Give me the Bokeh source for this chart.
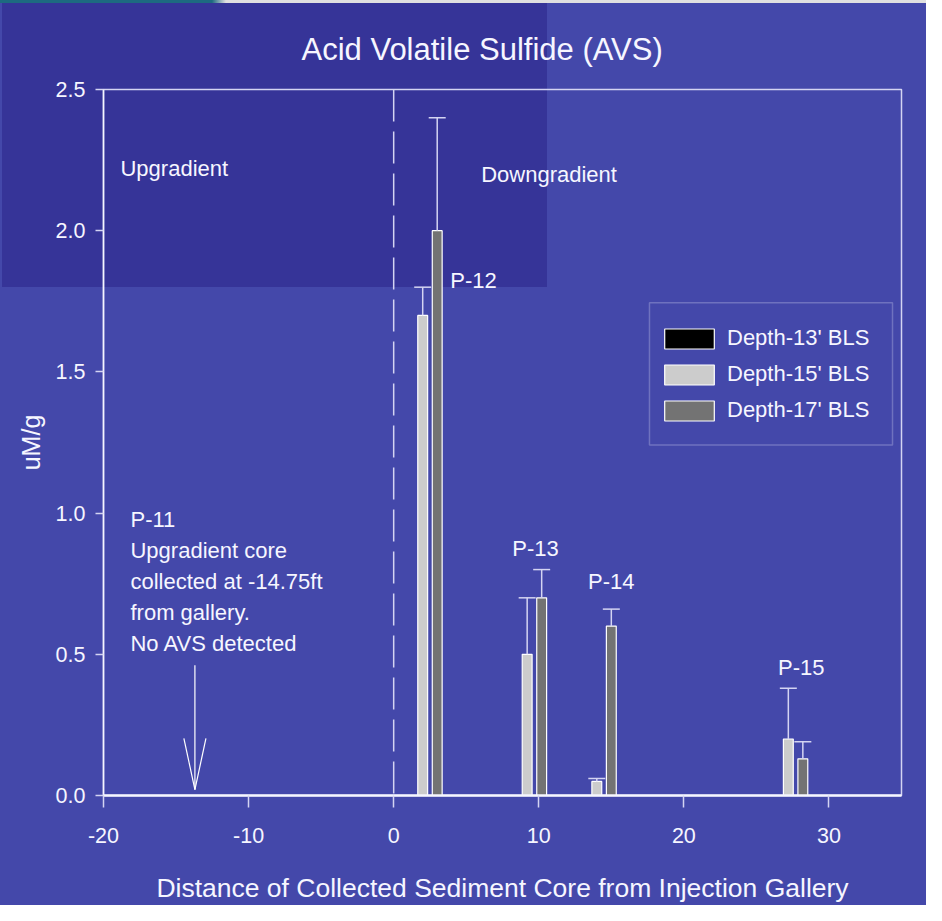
from bokeh.plotting import figure
from bokeh.models import (ColumnDataSource, Whisker, TeeHead, Span, Label, BoxAnnotation,
                          Legend, LegendItem, Range1d, FixedTicker, NumeralTickFormatter)
from bokeh.embed import file_html
from bokeh.resources import INLINE

# ---------------- data ----------------
cores = ["P-12", "P-13", "P-14", "P-15"]
core_distance = [2.5, 9.7, 14.5, 27.7]          # ft from injection gallery
depth13_avs = [None, None, None, None]          # not shown in chart
depth15_avs = [1.70, 0.50, 0.05, 0.20]          # uM/g
depth15_upper = [1.80, 0.70, 0.06, 0.38]
depth17_avs = [2.00, 0.70, 0.60, 0.13]
depth17_upper = [2.40, 0.80, 0.66, 0.19]
series_offset = [-1.5, -0.5, 0.5]               # 13', 15', 17' dodge
x_ticks = [-20, -10, 0, 10, 20, 30]
y_ticks = [0.0, 0.5, 1.0, 1.5, 2.0, 2.5]
p11_note = ["P-11", "Upgradient core", "collected at -14.75ft", "from gallery.", "No AVS detected"]

# ---------------- styles ----------------
BLUE = "#4448aa"
DARK = "#363498"
TXT = "#f6f6ff"
LINE = "#d4d4f2"
FONT = "Liberation Sans"
BAR_W = 0.68

src13 = ColumnDataSource(dict(x=[d + series_offset[0] for d in core_distance], top=depth13_avs))
src15 = ColumnDataSource(dict(x=[d + series_offset[1] for d in core_distance], top=depth15_avs, upper=depth15_upper))
src17 = ColumnDataSource(dict(x=[d + series_offset[2] for d in core_distance], top=depth17_avs, upper=depth17_upper))

p = figure(width=926, height=905, output_backend="svg", toolbar_location=None,
           x_range=Range1d(-20, 35), y_range=Range1d(0, 2.5),
           min_border_left=103, min_border_right=25, min_border_top=89, min_border_bottom=110,
           title="Acid Volatile Sulfide (AVS)")

# slide background (blue, darker top-left panel, grey/teal strip on top)
p.background_fill_alpha = 0
p.border_fill_alpha = 0
p.styles = {"background": (f"linear-gradient({DARK},{DARK}) 2px 3px / 545px 284px no-repeat, "
                           "linear-gradient(90deg, #1d6a80 0px, #1d6a80 212px, #e0e0e0 226px) 0 0 / 100% 3px no-repeat, "
                           f"{BLUE}")}

p.outline_line_color = LINE
p.outline_line_width = 1.5
p.grid.visible = False

# title
p.title.text_font = FONT
p.title.text_font_size = "31px"
p.title.text_font_style = "normal"
p.title.text_color = TXT
p.title.align = "left"
p.title.offset = 198
p.title.standoff = 45

# axes
for ax in (p.xaxis[0], p.yaxis[0]):
    ax.axis_line_color = "#f6f6ff"
    ax.major_tick_line_color = LINE
    ax.major_tick_line_width = 1.5
    ax.major_tick_in = 0
    ax.minor_tick_line_color = None
    ax.major_label_text_font = FONT
    ax.major_label_text_font_size = "21.5px"
    ax.major_label_text_color = TXT
    ax.axis_label_text_font = FONT
    ax.axis_label_text_font_style = "normal"
    ax.axis_label_text_color = TXT

p.xaxis.ticker = FixedTicker(ticks=x_ticks)
p.xaxis.formatter = NumeralTickFormatter(format="0")
p.xaxis.axis_line_width = 2.5
p.xaxis.major_tick_out = 12
p.xaxis.major_label_standoff = 20
p.xaxis.axis_label = "Distance of Collected Sediment Core from Injection Gallery"
p.xaxis.axis_label_text_font_size = "26.5px"
p.xaxis.axis_label_standoff = 27

p.yaxis.ticker = FixedTicker(ticks=y_ticks)
p.yaxis.formatter = NumeralTickFormatter(format="0.0")
p.yaxis.axis_line_width = 1.5
p.yaxis.major_tick_out = 8
p.yaxis.major_label_standoff = 10
p.yaxis.axis_label = "uM/g"
p.yaxis.axis_label_text_font_size = "25px"
p.yaxis.axis_label_standoff = 8

# gallery line
p.add_layout(Span(location=0, dimension="height", line_color=LINE, line_width=1.5, line_dash="32 10"))

# bars
r13 = p.vbar(x="x", top="top", width=BAR_W, source=src13, fill_color="black", line_color="white", line_width=1.2)
r15 = p.vbar(x="x", top="top", width=BAR_W, source=src15, fill_color="#cccccc", line_color="white", line_width=1.2)
r17 = p.vbar(x="x", top="top", width=BAR_W, source=src17, fill_color="#737373", line_color="white", line_width=1.2)

for src in (src15, src17):
    w = Whisker(source=src, base="x", lower="top", upper="upper", dimension="height",
                line_color=LINE, line_width=1.5, lower_head=None,
                upper_head=TeeHead(size=17, line_color=LINE, line_width=1.5))
    w.level = "glyph"
    p.add_layout(w)

# legend (frame drawn separately so the inner spacing can match the original)
p.add_layout(BoxAnnotation(left=17.63, right=34.38, bottom=1.241, top=1.745, fill_alpha=0,
                           line_color=LINE, line_width=1.5))
legend = Legend(items=[LegendItem(label="Depth-13' BLS", renderers=[r13]),
                       LegendItem(label="Depth-15' BLS", renderers=[r15]),
                       LegendItem(label="Depth-17' BLS", renderers=[r17])],
                location=(555, 372), glyph_width=62, glyph_height=25, label_height=25,
                spacing=10, padding=0, label_standoff=7,
                label_text_font=FONT, label_text_font_size="22px", label_text_color=TXT,
                border_line_alpha=0, background_fill_alpha=0)
p.add_layout(legend)

# annotations
def lab(x, y, t, size="22px"):
    p.add_layout(Label(x=x, y=y, text=t, text_font=FONT, text_font_size=size,
                       text_color=TXT, text_baseline="middle", text_align="left"))

lab(-18.83, 2.22, "Upgradient")
lab(6.03, 2.199, "Downgradient")
for name, lx, ly in zip(cores, [3.90, 8.17, 13.40, 26.49], [1.823, 0.876, 0.759, 0.454]):
    lab(lx, ly, name)
for i, line in enumerate(p11_note):
    lab(-18.14, 0.979 - 0.11 * i, line)

# arrow pointing at the P-11 location
ax_x = -13.7
p.segment(x0=[ax_x, ax_x - 0.76, ax_x + 0.76], y0=[0.461, 0.202, 0.202],
          x1=[ax_x, ax_x, ax_x], y1=[0.021, 0.021, 0.021], line_color="white", line_width=1.2)

open("out.html", "w").write(file_html(p, INLINE))
